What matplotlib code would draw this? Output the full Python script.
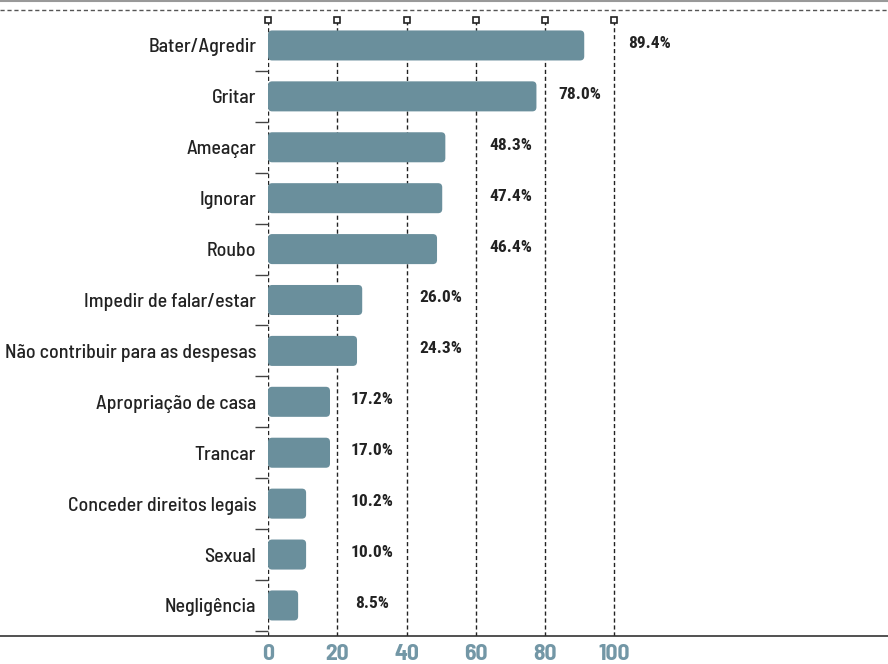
import matplotlib.pyplot as plt
from matplotlib.patches import FancyBboxPatch
from matplotlib.lines import Line2D

categories = ['Bater/Agredir', 'Gritar', 'Ameaçar', 'Ignorar', 'Roubo',
              'Impedir de falar/estar', 'Não contribuir para as despesas',
              'Apropriação de casa', 'Trancar', 'Conceder direitos legais',
              'Sexual', 'Negligência']
# bar lengths as drawn in the picture
bar_values = [91.3, 77.5, 51.2, 50.3, 48.8, 27.2, 25.7, 17.9, 17.9, 11.0, 11.0, 8.7]
value_labels = ['89.4%', '78.0%', '48.3%', '47.4%', '46.4%', '26.0%', '24.3%',
                '17.2%', '17.0%', '10.2%', '10.0%', '8.5%']
xticks = [0, 20, 40, 60, 80, 100]

plt.rcParams['font.family'] = ['Barlow Semi Condensed', 'DejaVu Sans']

bar_color = '#6a8f9c'
tick_color = '#7397a6'

fig = plt.figure(figsize=(8.88, 6.64), dpi=100)
ax = fig.add_axes([268 / 888, 1 - 636 / 664, 1 - 268 / 888, (636 - 20) / 664])

y = list(range(len(categories)))
bars = ax.barh(y, bar_values, height=0.59, color=bar_color)

# swap plain rectangles for rounded ones
aspect = 3.46 / 50.9
for b in bars:
    b.set_visible(False)
    p = FancyBboxPatch((b.get_x(), b.get_y()), b.get_width(), b.get_height(),
                       boxstyle='round,pad=0,rounding_size=1.2',
                       mutation_aspect=aspect, fc=bar_color, ec='none', zorder=2)
    ax.add_patch(p)

ax.set_xlim(0, 179)
ax.set_ylim(11.6, -0.5)

for x in xticks:
    ax.axvline(x, color='#222222', lw=1, ls=(0, (3, 2)), zorder=1)
ax.plot(xticks, [-0.5] * len(xticks), ls='none', marker='s', ms=5,
        mfc='white', mec='#222222', mew=1.2, clip_on=False, zorder=5)

# labels sit in the middle of the grid interval after the bar end
for yi, v, lab in zip(y, bar_values, value_labels):
    lx = 20 * int(v // 20) + 30
    ax.text(lx, yi - 0.04, lab, ha='center', va='center', fontsize=12.5,
            fontweight='bold', color='#222222',
            family=['Roboto Condensed', 'DejaVu Sans'])

for s in ax.spines.values():
    s.set_visible(False)

ax.set_yticks(y)
ax.set_yticklabels(categories, fontsize=14.3, fontweight='medium', color='#222222')
ax.tick_params(axis='y', length=0, pad=8.5)
ax.set_yticks([i + 0.5 for i in range(len(categories))], minor=True)
ax.tick_params(axis='y', which='minor', length=9.5, width=1, color='#444444')

ax.set_xticks(xticks)
ax.set_xticklabels([str(t) for t in xticks], fontsize=17, fontweight='bold',
                   color=tick_color)
ax.tick_params(axis='x', length=0, pad=6)

fig.add_artist(Line2D([0, 1], [1 - 636 / 664] * 2, color='#333333', lw=1.2))
fig.add_artist(Line2D([0, 1], [1 - 10 / 664] * 2, color='#555555', lw=1,
                      ls=(0, (3, 2))))
fig.add_artist(Line2D([0, 1], [0.999] * 2, color='#999999', lw=1.5))

fig.savefig('out.png', dpi=100)
